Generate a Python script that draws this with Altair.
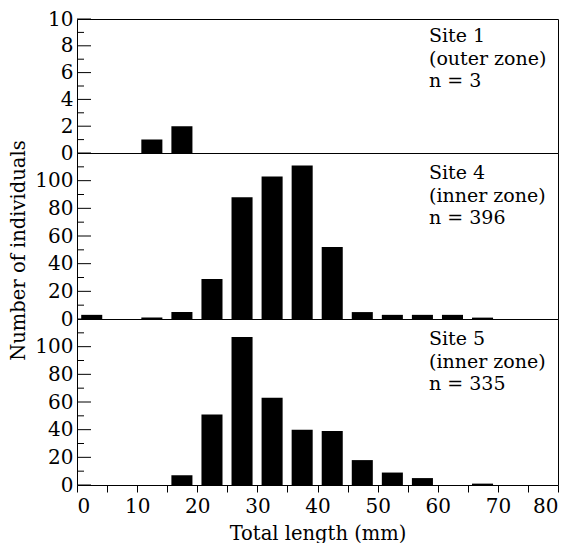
import altair as alt
import pandas as pd

# ---- data ----
bin_starts = list(range(0, 80, 5))  # 5 mm length classes, 0-80 mm
site1_counts = [0, 0, 1, 2, 0, 0, 0, 0, 0, 0, 0, 0, 0, 0, 0, 0]
site4_counts = [3, 0, 1, 5, 29, 88, 103, 111, 52, 5, 3, 3, 3, 1, 0, 0]
site5_counts = [0, 0, 0, 7, 51, 107, 63, 40, 39, 18, 9, 5, 0, 1, 0, 0]

site_names = ["Site 1", "Site 4", "Site 5"]
zones = ["(outer zone)", "(inner zone)", "(inner zone)"]
n_values = [3, 396, 335]

y_max = [10, 120, 120]
y_major = [[0, 2, 4, 6, 8, 10], [0, 20, 40, 60, 80, 100], [0, 20, 40, 60, 80, 100]]
y_minor = [[1, 3, 5, 7, 9], [10, 30, 50, 70, 90, 110], [10, 30, 50, 70, 90, 110]]
x_ticks = list(range(0, 81, 5))

heights = [134, 166, 166]
FONT = "DejaVu Serif"
PLOT_W = 481


def panel(i, counts, bottom=False, ytitle=False):
    df = pd.DataFrame({"start": bin_starts, "count": counts})
    df = df[df["count"] > 0]
    xscale = alt.Scale(domain=[0, 80], nice=False, zero=False)
    yscale = alt.Scale(domain=[0, y_max[i]], nice=False)

    if bottom:
        xaxis = alt.Axis(values=x_ticks,
                         labelExpr="datum.value % 10 === 0 ? datum.label : ''",
                         tickSize=7, tickColor="black", tickWidth=1,
                         domain=False, grid=False, labelOverlap=False,
                         labelFont=FONT, labelFontSize=20, labelPadding=4,
                         labelColor="black",
                         title="Total length (mm)", titleFont=FONT,
                         titleFontSize=19.5, titleFontWeight="normal",
                         titleColor="black", titlePadding=8)
    else:
        xaxis = None

    ykw = dict(values=y_major[i], ticks=False, domain=False, grid=False,
               labelOverlap=False,
               labelFont=FONT, labelFontSize=20, labelPadding=4,
               labelColor="black")
    if ytitle:
        ykw.update(title="Number of individuals", titleFont=FONT,
                   titleFontSize=19.5, titleFontWeight="normal",
                   titleColor="black", titlePadding=6, titleY=97)
    else:
        ykw.update(title=None)
    yaxis = alt.Axis(**ykw)

    bars = alt.Chart(df).transform_calculate(
        x0="datum.start + 0.7", x1="datum.start + 4.2", base="0"
    ).mark_bar(color="black").encode(
        x=alt.X("x0:Q", scale=xscale, axis=xaxis),
        x2="x1:Q",
        y=alt.Y("count:Q", scale=yscale, axis=yaxis),
        y2="base:Q",
    )

    major = alt.Chart(pd.DataFrame({"v": y_major[i]})).mark_rule(
        color="black", strokeWidth=1
    ).encode(y=alt.Y("v:Q", scale=yscale, axis=yaxis),
             x=alt.value(0), x2=alt.value(14))

    minor = alt.Chart(pd.DataFrame({"v": y_minor[i]})).mark_rule(
        color="black", strokeWidth=1
    ).encode(y=alt.Y("v:Q", scale=yscale, axis=yaxis),
             x=alt.value(0), x2=alt.value(7))

    label = f"{site_names[i]}\n{zones[i]}\nn = {n_values[i]}"
    text = alt.Chart(pd.DataFrame({"label": [label]})).mark_text(
        align="left", baseline="top", lineBreak="\n", lineHeight=22.5,
        fontSize=19, font=FONT, color="black"
    ).encode(x=alt.value(352), y=alt.value(8 if i == 0 else 11),
             text="label:N")

    return alt.layer(bars, major, minor, text).properties(
        width=PLOT_W, height=heights[i]
    )


chart = alt.vconcat(
    panel(0, site1_counts),
    panel(1, site4_counts, ytitle=True),
    panel(2, site5_counts, bottom=True),
    spacing=0,
    bounds="flush",
).properties(
    padding={"left": 0, "top": 0, "right": 0, "bottom": 0}
).configure_view(
    stroke="black", strokeWidth=1
).configure_axis(
    labelOverlap=False
)

chart.save("out.html", embed_options={"renderer": "svg", "actions": False})
